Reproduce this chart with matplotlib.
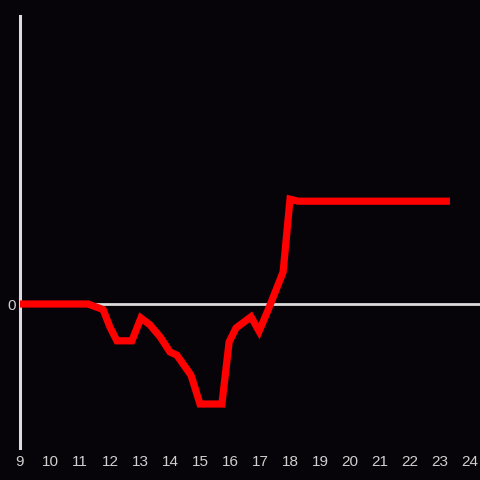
import matplotlib
matplotlib.use("Agg")
import matplotlib.pyplot as plt

# hour of day vs value
hours = [9.0, 11.27, 11.77, 12.0, 12.23, 12.73, 13.03, 13.33, 13.67, 14.0,
         14.23, 14.7, 15.0, 15.73, 15.97, 16.2, 16.7, 16.97, 17.27, 17.77,
         18.0, 18.27, 23.33]
values = [0.0, 0.0, -0.7, -2.9, -4.6, -4.6, -1.75, -2.6, -4.1, -6.0,
          -6.4, -8.9, -12.5, -12.5, -4.75, -3.0, -1.6, -3.4, -0.75, 4.0,
          13.1, 12.85, 12.85]

xticks = list(range(9, 25))
yticks = [0]

bg = "#060408"
grey = "#dcdcdc"

fig = plt.figure(figsize=(4.8, 4.8), dpi=100, facecolor=bg)
ax = fig.add_axes([20/480, 32/480, 460/480, 432/480], facecolor=bg)

ax.axhline(0, color=grey, lw=2.0, zorder=1)
ax.plot(hours, values, color="#ff0000", lw=5.2, solid_joinstyle="miter",
        solid_capstyle="butt", zorder=3)

ax.set_xlim(9, 24.333)
ax.set_ylim(-18, 36)

for s in ["top", "right", "bottom"]:
    ax.spines[s].set_visible(False)
ax.spines["left"].set_color(grey)
ax.spines["left"].set_linewidth(2.2)

ax.set_xticks(xticks)
ax.set_xticklabels([str(h) for h in xticks])
ax.set_yticks(yticks)
ax.set_yticklabels(["0"])
ax.tick_params(axis="both", length=0, colors="#cfcfcf", labelsize=11)
ax.tick_params(axis="x", pad=5)
ax.tick_params(axis="y", pad=3)
for lab in ax.get_xticklabels() + ax.get_yticklabels():
    lab.set_family("Liberation Sans")

fig.savefig("out.png", dpi=100, facecolor=bg)
